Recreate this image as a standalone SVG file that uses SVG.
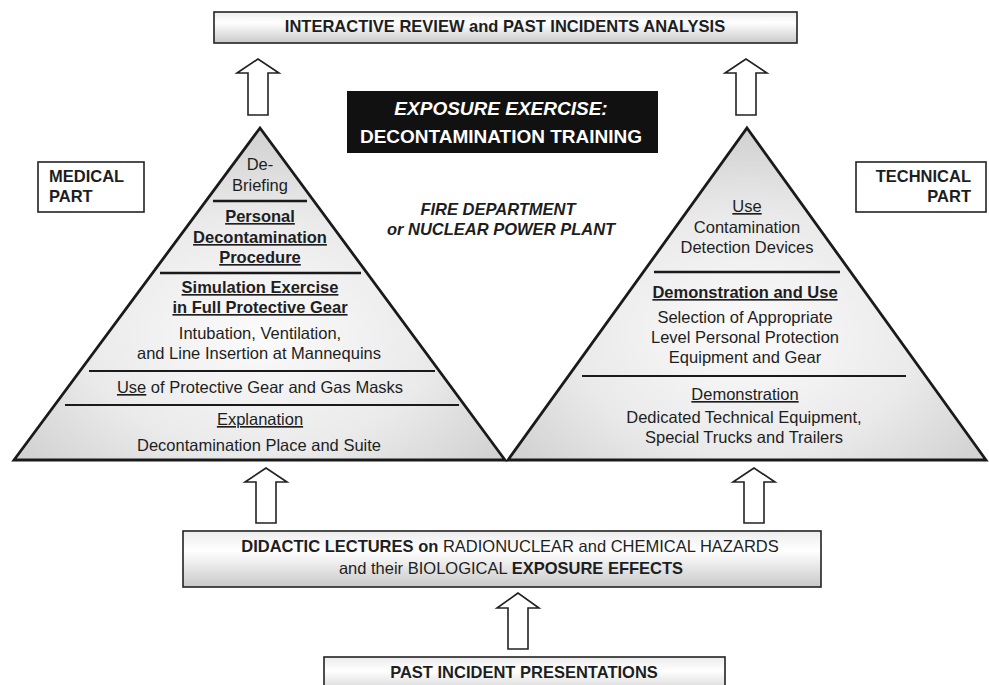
<svg xmlns="http://www.w3.org/2000/svg" width="989" height="685" viewBox="0 0 989 685">
<defs>
<linearGradient id="boxg" x1="0" y1="0" x2="0" y2="1">
<stop offset="0" stop-color="#ececec"/>
<stop offset="0.35" stop-color="#ffffff"/>
<stop offset="1" stop-color="#c9c9c9"/>
</linearGradient>
<radialGradient id="pyrg" cx="0.5" cy="0.62" r="0.6">
<stop offset="0" stop-color="#fbfbfb"/>
<stop offset="0.6" stop-color="#eaeaea"/>
<stop offset="1" stop-color="#d2d2d2"/>
</radialGradient>
<style>
text{font-family:"Liberation Sans",Arial,Helvetica,sans-serif;font-size:16.5px;fill:#1e1e1e;text-anchor:middle}
.b{font-weight:bold}
.u{text-decoration:underline}
.box{fill:url(#boxg);stroke:#222;stroke-width:1.6}
.plain{fill:#fff;stroke:#222;stroke-width:1.6}
.pyr{fill:url(#pyrg);stroke:#1a1a1a;stroke-width:2.8;stroke-linejoin:miter}
.div{stroke:#1a1a1a;stroke-width:2.6}
.div2{stroke:#1a1a1a;stroke-width:2}
.arrow{fill:#fff;stroke:#222;stroke-width:1.6;stroke-linejoin:miter}
</style>
</defs>
<rect width="989" height="685" fill="#fff"/>

<g id="connectors">
<polygon class="arrow" points="258,59 237,73 248,73 248,115 268,115 268,73 279,73"/>
<polygon class="arrow" points="746,59 725,73 736,73 736,115 756,115 756,73 767,73"/>
<polygon class="arrow" points="266,468 245,482 256,482 256,523 276,523 276,482 287,482"/>
<polygon class="arrow" points="754,468 733,482 744,482 744,523 764,523 764,482 775,482"/>
<polygon class="arrow" points="518,593 497,608 508,608 508,649 528,649 528,608 539,608"/>
</g>

<g id="review">
<rect class="box" x="214" y="12" width="583" height="31"/>
<text class="b" x="505" y="32">INTERACTIVE REVIEW and PAST INCIDENTS ANALYSIS</text>
</g>

<g id="title">
<rect x="347" y="91" width="311" height="62" fill="#111"/>
<text class="b" x="501" y="115" style="fill:#fff;font-size:19px;font-style:italic">EXPOSURE EXERCISE:</text>
<text class="b" x="501" y="143" style="fill:#fff;font-size:19px">DECONTAMINATION TRAINING</text>
</g>

<g id="location">
<text class="b" x="498" y="215" font-style="italic">FIRE DEPARTMENT</text>
<text class="b" x="501" y="235" font-style="italic">or NUCLEAR POWER PLANT</text>
</g>

<g id="medical-part">
<rect class="plain" x="38" y="162" width="106" height="50"/>
<text class="b" x="49" y="182" style="text-anchor:start">MEDICAL</text>
<text class="b" x="49" y="202" style="text-anchor:start">PART</text>
</g>

<g id="technical-part">
<rect class="plain" x="856" y="162" width="130" height="50"/>
<text class="b" x="971" y="182" style="text-anchor:end">TECHNICAL</text>
<text class="b" x="971" y="202" style="text-anchor:end">PART</text>
</g>

<g id="medical-pyramid">
<polygon class="pyr" points="260,128 505,460 14,460"/>
<line class="div" x1="213" y1="201" x2="307" y2="201"/>
<line class="div" x1="160" y1="273" x2="361" y2="273"/>
<line class="div2" x1="89" y1="371" x2="435" y2="371"/>
<line class="div2" x1="65" y1="405" x2="459" y2="405"/>
<text x="260" y="170">De-</text>
<text x="260" y="191">Briefing</text>
<text class="b u" x="260" y="222">Personal</text>
<text class="b u" x="260" y="243">Decontamination</text>
<text class="b u" x="260" y="263">Procedure</text>
<text class="b u" x="260" y="293">Simulation Exercise</text>
<text class="b u" x="260" y="313">in Full Protective Gear</text>
<text x="260" y="339">Intubation, Ventilation,</text>
<text x="259" y="359">and Line Insertion at Mannequins</text>
<text x="260" y="393"><tspan class="u">Use</tspan> of Protective Gear and Gas Masks</text>
<text class="u" x="260" y="425">Explanation</text>
<text x="259" y="451">Decontamination Place and Suite</text>
</g>

<g id="technical-pyramid">
<polygon class="pyr" points="747,128 986,460 508,460"/>
<line class="div" x1="654" y1="272" x2="840" y2="272"/>
<line class="div2" x1="582" y1="376" x2="906" y2="376"/>
<text class="u" x="747" y="212">Use</text>
<text x="747" y="233">Contamination</text>
<text x="747" y="253">Detection Devices</text>
<text class="b u" x="745" y="298">Demonstration and Use</text>
<text x="745" y="323">Selection of Appropriate</text>
<text x="745" y="343">Level Personal Protection</text>
<text x="745" y="363">Equipment and Gear</text>
<text class="u" x="745" y="400">Demonstration</text>
<text x="744" y="423">Dedicated Technical Equipment,</text>
<text x="744" y="443">Special Trucks and Trailers</text>
</g>

<g id="lectures">
<rect class="box" x="183" y="531" width="638" height="56"/>
<text x="510" y="552"><tspan class="b">DIDACTIC LECTURES on</tspan> RADIONUCLEAR and CHEMICAL HAZARDS</text>
<text x="511" y="574">and their BIOLOGICAL <tspan class="b">EXPOSURE EFFECTS</tspan></text>
</g>

<g id="past-incidents">
<rect class="box" x="324" y="657" width="401" height="40"/>
<text class="b" x="524" y="678">PAST INCIDENT PRESENTATIONS</text>
</g>
</svg>
